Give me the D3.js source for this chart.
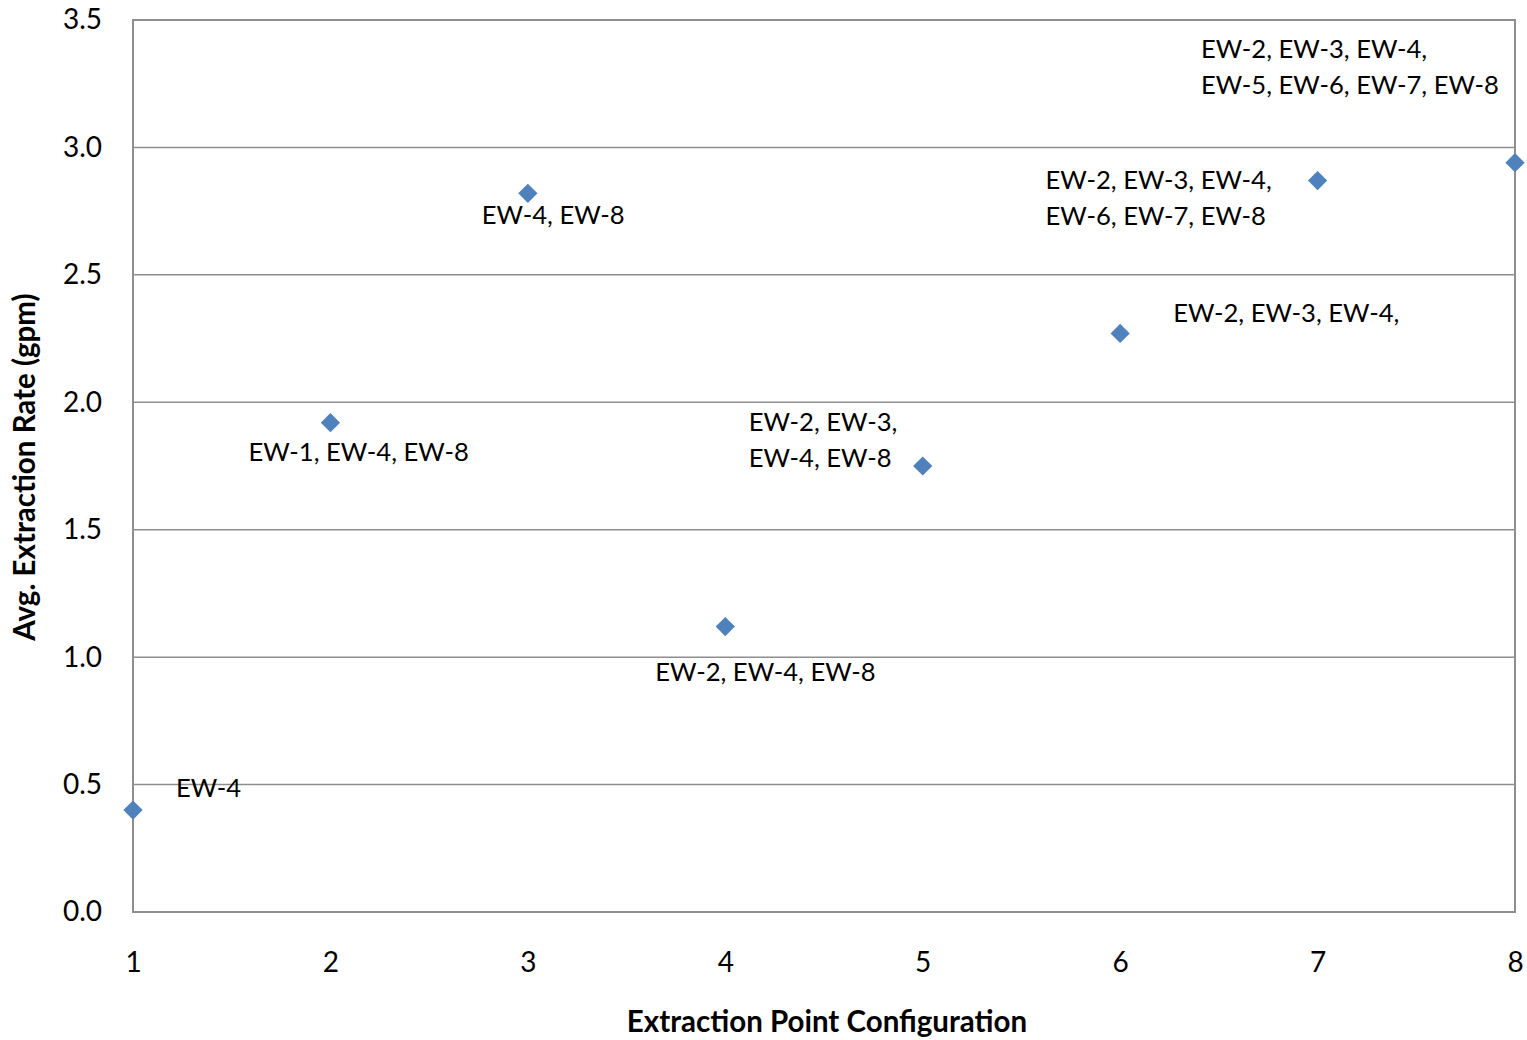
<!DOCTYPE html>
<html>
<head>
<meta charset="utf-8">
<script src="https://cdn.jsdelivr.net/npm/d3@7"></script>
<style>
  body { margin: 0; background: #fff; }
  text { font-family: Lato, "Open Sans", sans-serif; }
</style>
</head>
<body>
<svg id="chart" width="1527" height="1040"></svg>
<script>
// data
var configs = [1, 2, 3, 4, 5, 6, 7, 8]
var rates = [0.40, 1.92, 2.82, 1.12, 1.75, 2.27, 2.87, 2.94]
var labels = [
    ["EW-4"],
    ["EW-1, EW-4, EW-8"],
    ["EW-4, EW-8"],
    ["EW-2, EW-4, EW-8"],
    ["EW-2, EW-3,", "EW-4, EW-8"],
    ["EW-2, EW-3, EW-4,"],
    ["EW-2, EW-3, EW-4,", "EW-6, EW-7, EW-8"],
    ["EW-2, EW-3, EW-4,", "EW-5, EW-6, EW-7, EW-8"]
]
var yTicks = [0, 0.5, 1, 1.5, 2, 2.5, 3, 3.5]

// where each label sits relative to its point (px: left edge, first line centre)
var labelOffsets = [[43, -22], [-82, 29], [-46, 22], [-70, 45], [-174, -44], [53, -20], [-272, -1], [-314, -114]]

var svg = d3.select("#chart"),
    margin = { top: 20, left: 133, bottom: 128, right: 12 },
    width = +svg.attr("width"),
    height = +svg.attr("height");

var x = d3.scaleLinear().domain([1, 8]).range([margin.left, width - margin.right])
var y = d3.scaleLinear().domain([0, 3.5]).range([height - margin.bottom, margin.top])

var grey = "#8e8e8e"

// gridlines
svg.append("g")
    .selectAll("line")
    .data(yTicks)
    .enter().append("line")
    .attr("x1", x(1)).attr("x2", x(8))
    .attr("y1", d => y(d)).attr("y2", d => y(d))
    .attr("stroke", grey).attr("stroke-width", 1.5)

// plot frame
svg.append("rect")
    .attr("x", x(1)).attr("y", y(3.5))
    .attr("width", x(8) - x(1)).attr("height", y(0) - y(3.5))
    .attr("fill", "none").attr("stroke", grey).attr("stroke-width", 2)

var yAxis = svg.append("g")
    .attr("transform", `translate(${x(1)},0)`)
    .call(d3.axisLeft(y).tickValues(yTicks).tickFormat(d3.format(".1f")).tickSize(0).tickPadding(31))
yAxis.select(".domain").remove()
yAxis.selectAll("text").attr("font-size", 28).attr("fill", "#000")

var xAxis = svg.append("g")
    .attr("transform", `translate(0,${y(0)})`)
    .call(d3.axisBottom(x).tickValues(configs).tickFormat(d3.format("d")).tickSize(0).tickPadding(40))
xAxis.select(".domain").remove()
xAxis.selectAll("text").attr("font-size", 28).attr("fill", "#000")

// axis titles
svg.append("text")
    .attr("x", 827).attr("y", 1032)
    .attr("text-anchor", "middle")
    .attr("font-size", 29.5).attr("font-weight", "bold")
    .text("Extraction Point Configuration")

svg.append("text")
    .attr("transform", "translate(35,467) rotate(-90)")
    .attr("text-anchor", "middle")
    .attr("font-size", 29.5).attr("font-weight", "bold")
    .text("Avg. Extraction Rate (gpm)")

// markers
svg.append("g")
    .selectAll("path")
    .data(configs)
    .enter().append("path")
    .attr("d", d3.symbol(d3.symbolSquare, 185))
    .attr("transform", (d, i) => `translate(${x(d)},${y(rates[i])}) rotate(45)`)
    .attr("fill", "#4f81bd")

// data labels
var lab = svg.append("g")
    .selectAll("text")
    .data(configs)
    .enter().append("text")
    .attr("font-size", 25.6)
    .attr("fill", "#000")
    .attr("x", (d, i) => x(d) + labelOffsets[i][0])
    .attr("y", (d, i) => y(rates[i]) + labelOffsets[i][1])
lab.selectAll("tspan")
    .data((d, i) => labels[i])
    .enter().append("tspan")
    .attr("x", function () { return d3.select(this.parentNode).attr("x") })
    .attr("dy", (d, j) => j == 0 ? "0.35em" : 36)
    .text(d => d)
</script>
</body>
</html>
